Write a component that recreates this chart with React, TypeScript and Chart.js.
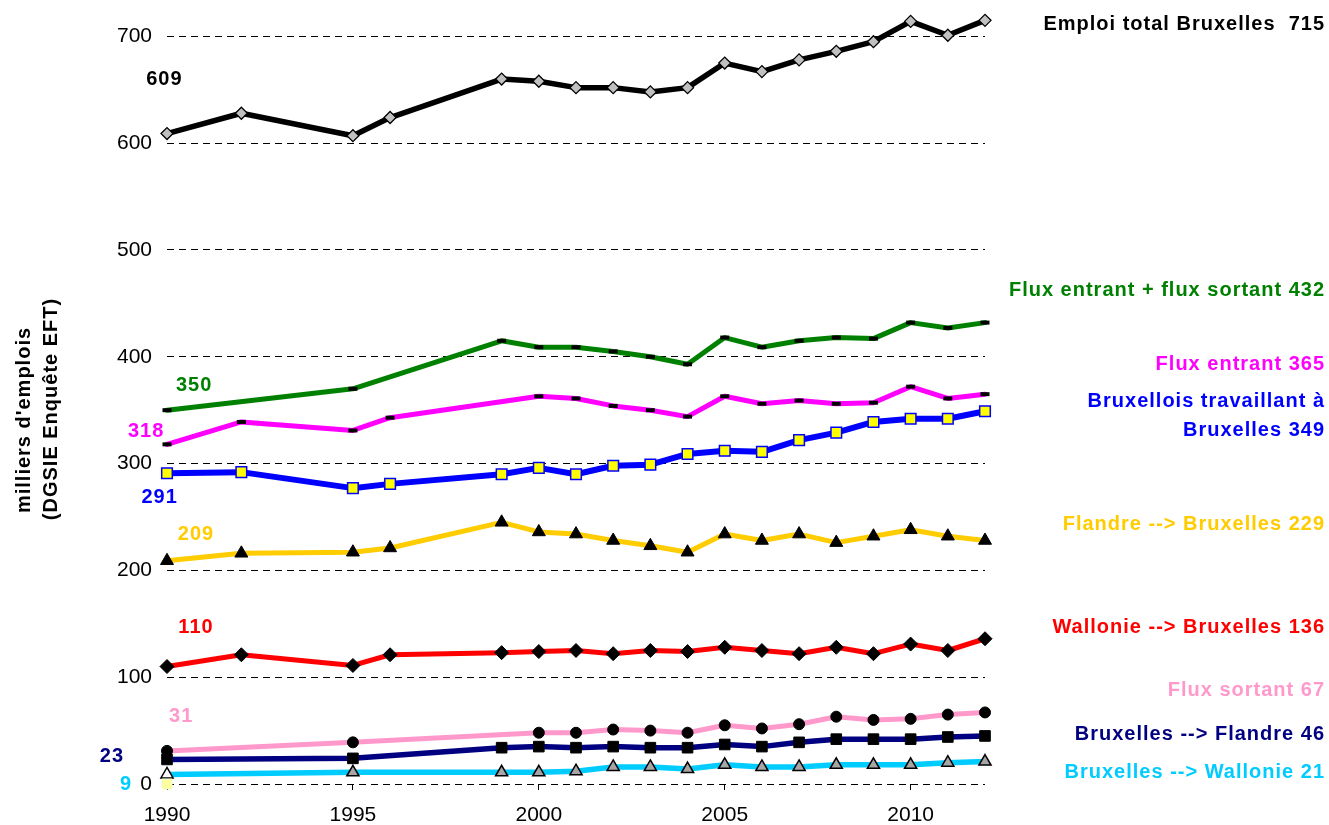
import React, { useEffect, useRef } from 'react';
import { Chart, registerables } from 'chart.js';

Chart.register(...registerables);

const FONT = '"Liberation Sans", Arial, Helvetica, sans-serif';

// ---------- data ----------
const years = [1990, 1992, 1995, 1996, 1999, 2000, 2001, 2002, 2003, 2004, 2005, 2006, 2007, 2008, 2009, 2010, 2011, 2012];

const emploiTotal = [609, 628, 607, 624, 660, 658, 652, 652, 648, 652, 675, 667, 678, 686, 695, 714, 701, 715];
const fluxEntrantSortant = [350, null, 370, null, 415, 409, 409, 405, 400, 393, 418, 409, 415, 418, 417, 432, 427, 432];
const fluxEntrant = [318, 339, 331, 343, null, 363, 361, 354, 350, 344, 363, 356, 359, 356, 357, 372, 361, 365];
const bruxellois = [291, 292, 277, 281, 290, 296, 290, 298, 299, 309, 312, 311, 322, 329, 339, 342, 342, 349];
const flandreBxl = [209, 216, 217, 221, 245, 236, 234, 228, 223, 217, 234, 228, 234, 226, 232, 238, 232, 228];
const wallonieBxl = [110, 121, 111, 121, 123, 124, 125, 122, 125, 124, 128, 125, 122, 128, 122, 131, 125, 136];
const fluxSortant = [31, null, 39, null, null, 48, 48, 51, 50, 48, 55, 52, 56, 63, 60, 61, 65, 67];
const bxlFlandre = [23, null, 24, null, 34, 35, 34, 35, 34, 34, 37, 35, 39, 42, 42, 42, 44, 45];
const bxlWallonie = [9, null, 11, null, 11, 11, 12, 16, 16, 14, 18, 16, 16, 18, 18, 18, 20, 21];
const strayMarkerYears = [1990];
const strayMarkerValues = [0];

const yTicks = [0, 100, 200, 300, 400, 500, 600, 700];
const xTicks = [1990, 1995, 2000, 2005, 2010];

const seriesEndLabels = [
  { text: 'Emploi total Bruxelles  715', color: '#000000', value: 710.7 },
  { text: 'Flux entrant + flux sortant 432', color: '#008000', value: 462.3 },
  { text: 'Flux entrant 365', color: '#FF00FF', value: 393.0 },
  { text: 'Bruxellois travaillant à', color: '#0000FF', value: 358.4 },
  { text: 'Bruxelles 349', color: '#0000FF', value: 331.3 },
  { text: 'Flandre --> Bruxelles 229', color: '#FFCC00', value: 243.3 },
  { text: 'Wallonie --> Bruxelles 136', color: '#FF0000', value: 146.9 },
  { text: 'Flux sortant 67', color: '#FF99CC', value: 88.0 },
  { text: 'Bruxelles --> Flandre 46', color: '#000080', value: 46.8 },
  { text: 'Bruxelles --> Wallonie 21', color: '#00CCFF', value: 11.2 },
];

const seriesStartLabels = [
  { text: '609', color: '#000000', year: 1989.93, value: 659.7 },
  { text: '350', color: '#008000', year: 1990.73, value: 373.4 },
  { text: '318', color: '#FF00FF', year: 1989.44, value: 330.3 },
  { text: '291', color: '#0000FF', year: 1989.8, value: 268.6 },
  { text: '209', color: '#FFCC00', year: 1990.78, value: 234.0 },
  { text: '110', color: '#FF0000', year: 1990.78, value: 147.0 },
  { text: '31', color: '#FF99CC', year: 1990.38, value: 63.6 },
  { text: '23', color: '#000080', year: 1988.52, value: 25.3 },
  { text: '9', color: '#00CCFF', year: 1988.9, value: 0 },
];

const yTitleLines = ["milliers d'emplois", '(DGSIE Enquête EFT)'];

function toPoints(xs: number[], vals: (number | null)[]) {
  const out: { x: number; y: number }[] = [];
  xs.forEach((x, i) => {
    const v = vals[i];
    if (v !== null && v !== undefined) out.push({ x, y: v });
  });
  return out;
}

const annotatePlugin = {
  id: 'annotate',
  afterDraw(chart: any) {
    const { ctx, scales } = chart;
    const x = scales.x;
    const y = scales.y;
    ctx.save();
    (ctx as any).letterSpacing = '1px';
    ctx.font = `bold 20px ${FONT}`;
    ctx.textBaseline = 'middle';
    ctx.textAlign = 'right';
    seriesEndLabels.forEach((l) => {
      ctx.fillStyle = l.color;
      ctx.fillText(l.text, chart.width - 4, y.getPixelForValue(l.value));
    });
    ctx.textAlign = 'center';
    seriesStartLabels.forEach((l) => {
      ctx.fillStyle = l.color;
      ctx.fillText(l.text, x.getPixelForValue(l.year), y.getPixelForValue(l.value));
    });
    // y axis title (two rotated lines)
    ctx.fillStyle = '#000000';
    const titleX = [24, 51];
    const titleY = [420, 409];
    yTitleLines.forEach((t, i) => {
      ctx.save();
      ctx.translate(titleX[i], titleY[i]);
      ctx.rotate(-Math.PI / 2);
      ctx.fillText(t, 0, 0);
      ctx.restore();
    });
    ctx.restore();
  },
};

export default function App() {
  const canvasRef = useRef<HTMLCanvasElement | null>(null);

  useEffect(() => {
    if (!canvasRef.current) return;
    Chart.defaults.font.family = FONT;

    const line = (
      label: string,
      vals: (number | null)[],
      color: string,
      width: number,
      pointStyle: string,
      radius: number,
      pointBg: any,
      pointBorder: string,
      pointBorderWidth: number
    ) => ({
      label,
      data: toPoints(years, vals),
      borderColor: color,
      backgroundColor: color,
      borderWidth: width,
      pointStyle,
      pointRadius: radius,
      pointHoverRadius: radius,
      pointBackgroundColor: pointBg,
      pointBorderColor: pointBorder,
      pointBorderWidth,
      tension: 0,
      fill: false,
      clip: false as any,
      borderJoinStyle: 'round' as const,
      borderCapStyle: 'round' as const,
    });

    const cyanBg = toPoints(years, bxlWallonie).map((_, i) => (i === 0 ? '#FFFFFF' : '#A6A6A6'));

    const chart = new Chart(canvasRef.current, {
      type: 'line',
      data: {
        datasets: [
          {
            label: 'marker',
            data: toPoints(strayMarkerYears, strayMarkerValues),
            showLine: false,
            pointStyle: 'rect',
            pointRadius: 7,
            pointBackgroundColor: '#FFFFA0',
            pointBorderColor: '#EEFFCC',
            pointBorderWidth: 1,
            clip: false as any,
          } as any,
          line('Emploi total Bruxelles', emploiTotal, '#000000', 5.5, 'rectRot', 6, '#C0C0C0', '#000000', 1.3),
          line('Flux entrant + flux sortant', fluxEntrantSortant, '#008000', 5, 'line', 4.5, '#000000', '#000000', 4),
          line('Flux entrant', fluxEntrant, '#FF00FF', 5, 'line', 4.5, '#000000', '#000000', 4),
          line('Bruxellois travaillant à Bruxelles', bruxellois, '#0000FF', 6, 'rect', 7.5, '#FFFF00', '#0000FF', 1.5),
          line('Flandre --> Bruxelles', flandreBxl, '#FFCC00', 5, 'triangle', 7.5, '#000000', '#000000', 1),
          line('Wallonie --> Bruxelles', wallonieBxl, '#FF0000', 5, 'rectRot', 7, '#000000', '#000000', 1),
          line('Flux sortant', fluxSortant, '#FF99CC', 5, 'circle', 5.5, '#000000', '#000000', 1),
          line('Bruxelles --> Flandre', bxlFlandre, '#000080', 5.5, 'rect', 7.5, '#000000', '#000000', 1),
          line('Bruxelles --> Wallonie', bxlWallonie, '#00CCFF', 5.5, 'triangle', 7, cyanBg, '#000000', 1.5),
        ] as any,
      },
      options: {
        responsive: false,
        animation: false,
        events: [],
        layout: { padding: { top: 15, right: 344, bottom: 0, left: 0 } },
        plugins: {
          legend: { display: false },
          tooltip: { enabled: false },
          title: { display: false },
        },
        scales: {
          x: {
            type: 'linear',
            min: 1990,
            max: 2012,
            afterBuildTicks: (axis: any) => {
              axis.ticks = xTicks.map((v) => ({ value: v }));
            },
            afterFit: (scale: any) => {
              scale.height = 41;
              scale.paddingLeft = 0;
              scale.paddingRight = 0;
            },
            ticks: {
              color: '#000000',
              font: { size: 21, family: FONT },
              padding: 13,
              maxRotation: 0,
              autoSkip: false,
              callback: (v: any) => String(v),
            },
            grid: {
              display: true,
              drawOnChartArea: false,
              drawTicks: true,
              tickLength: 6,
              color: '#000000',
              lineWidth: 1,
            },
            border: { display: false },
          },
          y: {
            type: 'linear',
            min: 0,
            max: 720,
            afterBuildTicks: (axis: any) => {
              axis.ticks = yTicks.map((v) => ({ value: v }));
            },
            afterFit: (scale: any) => {
              scale.width = 167;
              scale.paddingTop = 0;
              scale.paddingBottom = 0;
            },
            ticks: {
              color: '#000000',
              font: { size: 21, family: FONT },
              padding: 15,
              callback: (v: any) => String(v),
            },
            grid: {
              display: true,
              drawTicks: false,
              color: '#000000',
              lineWidth: 1,
            },
            border: { display: false, dash: [7, 5] },
          },
        },
      } as any,
      plugins: [annotatePlugin],
    });

    return () => {
      chart.destroy();
    };
  }, []);

  return (
    <div style={{ position: 'fixed', left: 0, top: 0, width: 1329, height: 825, background: '#FFFFFF' }}>
      <canvas ref={canvasRef} width={1329} height={825} style={{ display: 'block' }} />
    </div>
  );
}
